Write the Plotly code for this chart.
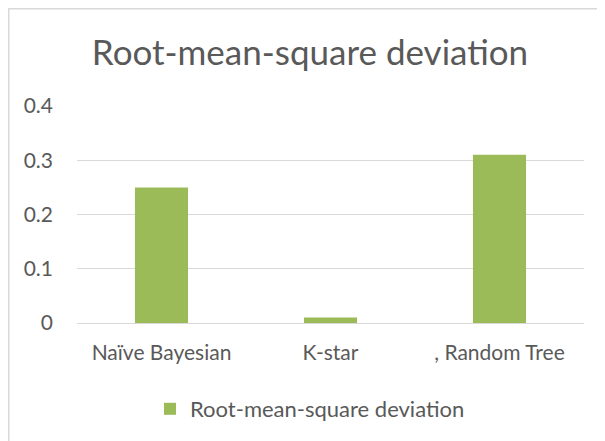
import plotly.graph_objects as go

categories = ["Naïve Bayesian", "K-star", ", Random Tree"]
rmsd_values = [0.25, 0.01, 0.31]
series_name = "Root-mean-square deviation"
y_ticks = [0, 0.1, 0.2, 0.3, 0.4]
y_tick_labels = ["0", "0.1", "0.2", "0.3", "0.4"]

# page body has an 8px margin; work in reference pixels minus that offset
OFF = 8
W, H = 605 - OFF, 441 - OFF
L = 77 - OFF
T = 106 - OFF
R = W - (584 - OFF)
B = H - (323 - OFF)
pw, ph = W - L - R, H - T - B

FONT = "Lato"
TXT = "#595959"

fig = go.Figure()
fig.add_trace(go.Bar(
    x=categories, y=rmsd_values, name=series_name,
    marker=dict(color="#9BBB59", line=dict(width=0)),
    showlegend=True,
))

def px_x(p):
    return (p - OFF - L) / pw

def px_y(p):
    return (H - B - (p - OFF)) / ph

fig.update_layout(
    width=W, height=H,
    margin=dict(l=L, r=R, t=T, b=B, autoexpand=False),
    paper_bgcolor="white", plot_bgcolor="white",
    font=dict(family=FONT, color=TXT, size=21),
    title=dict(text="Root-mean-square deviation", x=(310 - OFF) / W, xanchor="center",
               y=1 - (53 - OFF) / H, yanchor="middle", yref="container",
               font=dict(family=FONT, size=35, color=TXT)),
    bargap=0.686,
    xaxis=dict(showgrid=False, showline=False, ticks="", zeroline=False,
               ticklabelstandoff=15,
               tickfont=dict(size=21, color=TXT)),
    yaxis=dict(range=[0, 0.4], tickvals=y_ticks, ticktext=y_tick_labels,
               showgrid=True, gridcolor="#d9d9d9", gridwidth=1,
               zeroline=True, zerolinecolor="#d9d9d9", zerolinewidth=1,
               showline=False, ticks="", ticklabelstandoff=23,
               tickfont=dict(size=21, color=TXT)),
    legend=dict(orientation="h", x=px_x(310), xanchor="center",
                y=px_y(409), yanchor="middle", font=dict(size=22, color=TXT),
                itemwidth=30, bgcolor="rgba(0,0,0,0)"),
    shapes=[dict(type="rect", xref="paper", yref="paper",
                 x0=px_x(8.75), x1=px_x(630), y0=px_y(470), y1=px_y(8.75),
                 line=dict(color="#d9d9d9", width=1.5), fillcolor="rgba(0,0,0,0)",
                 layer="below")],
)

fig.write_html("out.html")
